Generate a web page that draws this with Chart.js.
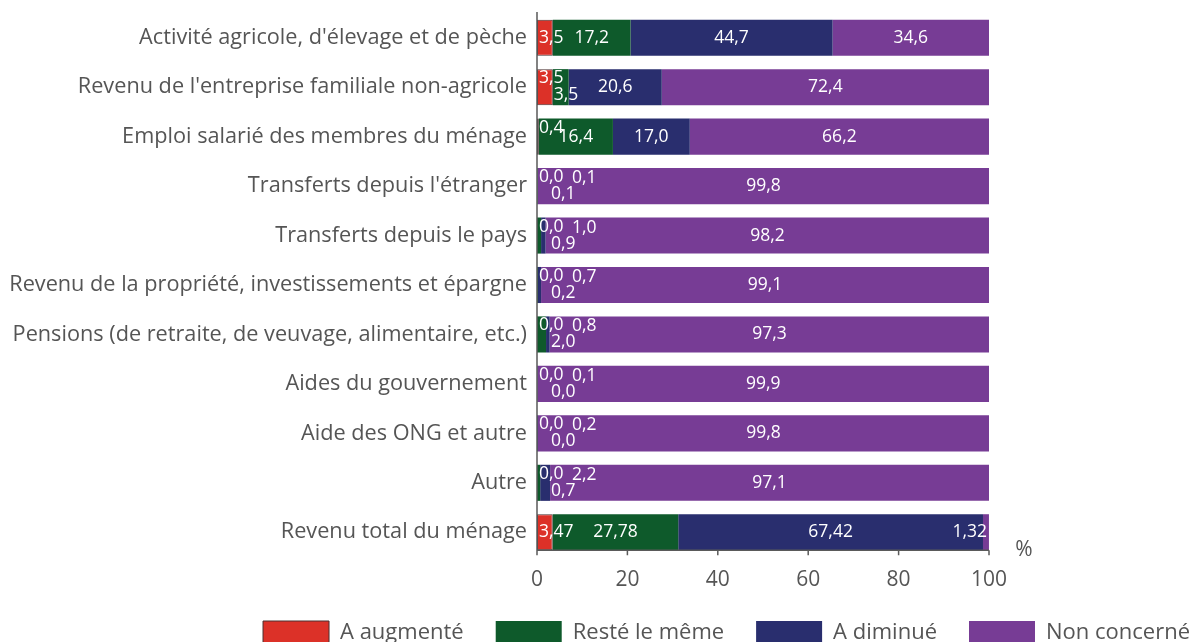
<!DOCTYPE html>
<html>
<head>
<meta charset="utf-8">
<script src="https://cdn.jsdelivr.net/npm/chart.js@4.4.1/dist/chart.umd.min.js"></script>
<style>
    html, body { margin: 0; padding: 0; background: #fff; overflow: hidden; }
    #wrap { position: relative; width: 1222px; height: 655px; }
</style>
</head>
<body>
<div id="wrap"><canvas id="chart"></canvas></div>
<script>
const categories = [
    "Activité agricole, d'élevage et de pèche",
    "Revenu de l'entreprise familiale non-agricole",
    "Emploi salarié des membres du ménage",
    "Transferts depuis l'étranger",
    "Transferts depuis le pays",
    "Revenu de la propriété, investissements et épargne",
    "Pensions (de retraite, de veuvage, alimentaire, etc.)",
    "Aides du gouvernement",
    "Aide des ONG et autre",
    "Autre",
    "Revenu total du ménage"
];
const augmente    = [3.5, 3.5, 0.4, 0.0, 0.0, 0.0, 0.0, 0.0, 0.0, 0.0, 3.47];
const resteMeme   = [17.2, 3.5, 16.4, 0.1, 0.9, 0.2, 2.0, 0.0, 0.0, 0.7, 27.78];
const diminue     = [44.7, 20.6, 17.0, 0.1, 1.0, 0.7, 0.8, 0.1, 0.2, 2.2, 67.42];
const nonConcerne = [34.6, 72.4, 66.2, 99.8, 98.2, 99.1, 97.3, 99.9, 99.8, 97.1, 1.32];
const labelDecimals = [1, 1, 1, 1, 1, 1, 1, 1, 1, 1, 2];
const xTicks = [0, 20, 40, 60, 80, 100];
const seriesNames = ['A augmenté', 'Resté le même', 'A diminué', 'Non concerné'];

const FONT = '"Open Sans", "DejaVu Sans", sans-serif';

// axis lines drawn at the bottom of the last bar, like the original
const axisLines = {
    id: 'axisLines',
    afterDatasetsDraw(chart) {
        const { ctx, chartArea, scales: { x } } = chart;
        const meta = chart.getDatasetMeta(0);
        const last = meta.data[meta.data.length - 1].getProps(['y', 'height'], true);
        const axisY = last.y + last.height / 2;
        const x0 = x.getPixelForValue(0);

        ctx.save();
        ctx.strokeStyle = '#5a5a5a';
        ctx.lineWidth = 1.5;
        ctx.beginPath();
        ctx.moveTo(x0, chartArea.top - 1);
        ctx.lineTo(x0, axisY + 5);
        ctx.moveTo(x0, axisY);
        ctx.lineTo(x.getPixelForValue(100), axisY);
        xTicks.forEach(t => {
            const px = x.getPixelForValue(t);
            ctx.moveTo(px, axisY);
            ctx.lineTo(px, axisY + 5);
        });
        ctx.stroke();

        ctx.fillStyle = '#555';
        ctx.font = '21px ' + FONT;
        ctx.textAlign = 'center';
        ctx.textBaseline = 'middle';
        ctx.fillText('%', chartArea.right + 35, axisY);
        ctx.restore();
    }
};

// value labels inside / next to the segments
const valueLabels = {
    id: 'valueLabels',
    afterDatasetsDraw(chart) {
        const { ctx } = chart;
        ctx.save();
        ctx.fillStyle = '#fff';
        ctx.font = '17.5px ' + FONT;
        ctx.textBaseline = 'middle';

        chart.data.datasets.forEach((ds, di) => {
            const meta = chart.getDatasetMeta(di);
            meta.data.forEach((bar, i) => {
                const v = ds.data[i];
                const p = bar.getProps(['x', 'y', 'base'], true);
                const barStart = chart.getDatasetMeta(0).data[i].getProps(['base'], true).base;
                const text = v.toFixed(labelDecimals[i]).replace('.', ',');
                const crowded = augmente[i] < 3 || resteMeme[i] < 5;

                if (v >= 5) {
                    ctx.textAlign = 'center';
                    ctx.fillText(text, (p.x + p.base) / 2, p.y);
                    return;
                }
                if (di === 0) {
                    ctx.textAlign = 'left';
                    ctx.fillText(text, barStart + 2, p.y + (crowded ? -9 : 0));
                } else if (di === 1) {
                    ctx.textAlign = 'left';
                    ctx.fillText(text, Math.max(p.base + 1, barStart + 14), p.y + 8);
                } else if (di === 2) {
                    ctx.textAlign = 'left';
                    ctx.fillText(text, barStart + 35, p.y - 8);
                } else {
                    ctx.textAlign = 'right';
                    ctx.fillText(text, p.x - 2, p.y);
                }
            });
        });
        ctx.restore();
    }
};

new Chart(document.getElementById('chart'), {
    type: 'bar',
    data: {
        labels: categories,
        datasets: [
            { label: seriesNames[0], data: augmente, backgroundColor: '#dc3128', borderColor: '#4a3030', borderWidth: 1, borderSkipped: false },
            { label: seriesNames[1], data: resteMeme, backgroundColor: '#0e5a2b', borderWidth: 0 },
            { label: seriesNames[2], data: diminue, backgroundColor: '#292e6e', borderWidth: 0 },
            { label: seriesNames[3], data: nonConcerne, backgroundColor: '#773c95', borderWidth: 0 }
        ]
    },
    options: {
        indexAxis: 'y',
        responsive: true,
        maintainAspectRatio: false,
        animation: false,
        devicePixelRatio: 1,
        datasets: {
            bar: { categoryPercentage: 1, barPercentage: 0.73 }
        },
        layout: { padding: { top: 13, left: 0, right: 0, bottom: 0 } },
        plugins: {
            tooltip: { enabled: false },
            legend: {
                position: 'bottom',
                align: 'end',
                labels: {
                    boxWidth: 66,
                    boxHeight: 24,
                    padding: 32,
                    color: '#555',
                    font: { family: FONT, size: 22 }
                }
            }
        },
        scales: {
            x: {
                stacked: true,
                min: 0,
                max: 100,
                grid: { display: false, drawTicks: false },
                border: { display: false },
                ticks: {
                    stepSize: 20,
                    padding: 10,
                    color: '#555',
                    font: { family: FONT, size: 21 }
                },
                afterFit(scale) { scale.height = 32; }
            },
            y: {
                stacked: true,
                grid: { display: false, drawTicks: false },
                border: { display: false },
                ticks: {
                    padding: 10,
                    color: '#555',
                    font: { family: FONT, size: 21.7 }
                },
                afterFit(scale) {
                    scale.width = 537;
                    scale.paddingTop = 0;
                    scale.paddingBottom = 0;
                }
            },
            spacer: {
                type: 'linear',
                position: 'right',
                grid: { display: false, drawTicks: false },
                border: { display: false },
                ticks: { display: false },
                afterFit(scale) { scale.width = 233; }
            }
        }
    },
    plugins: [axisLines, valueLabels]
});
</script>
</body>
</html>
